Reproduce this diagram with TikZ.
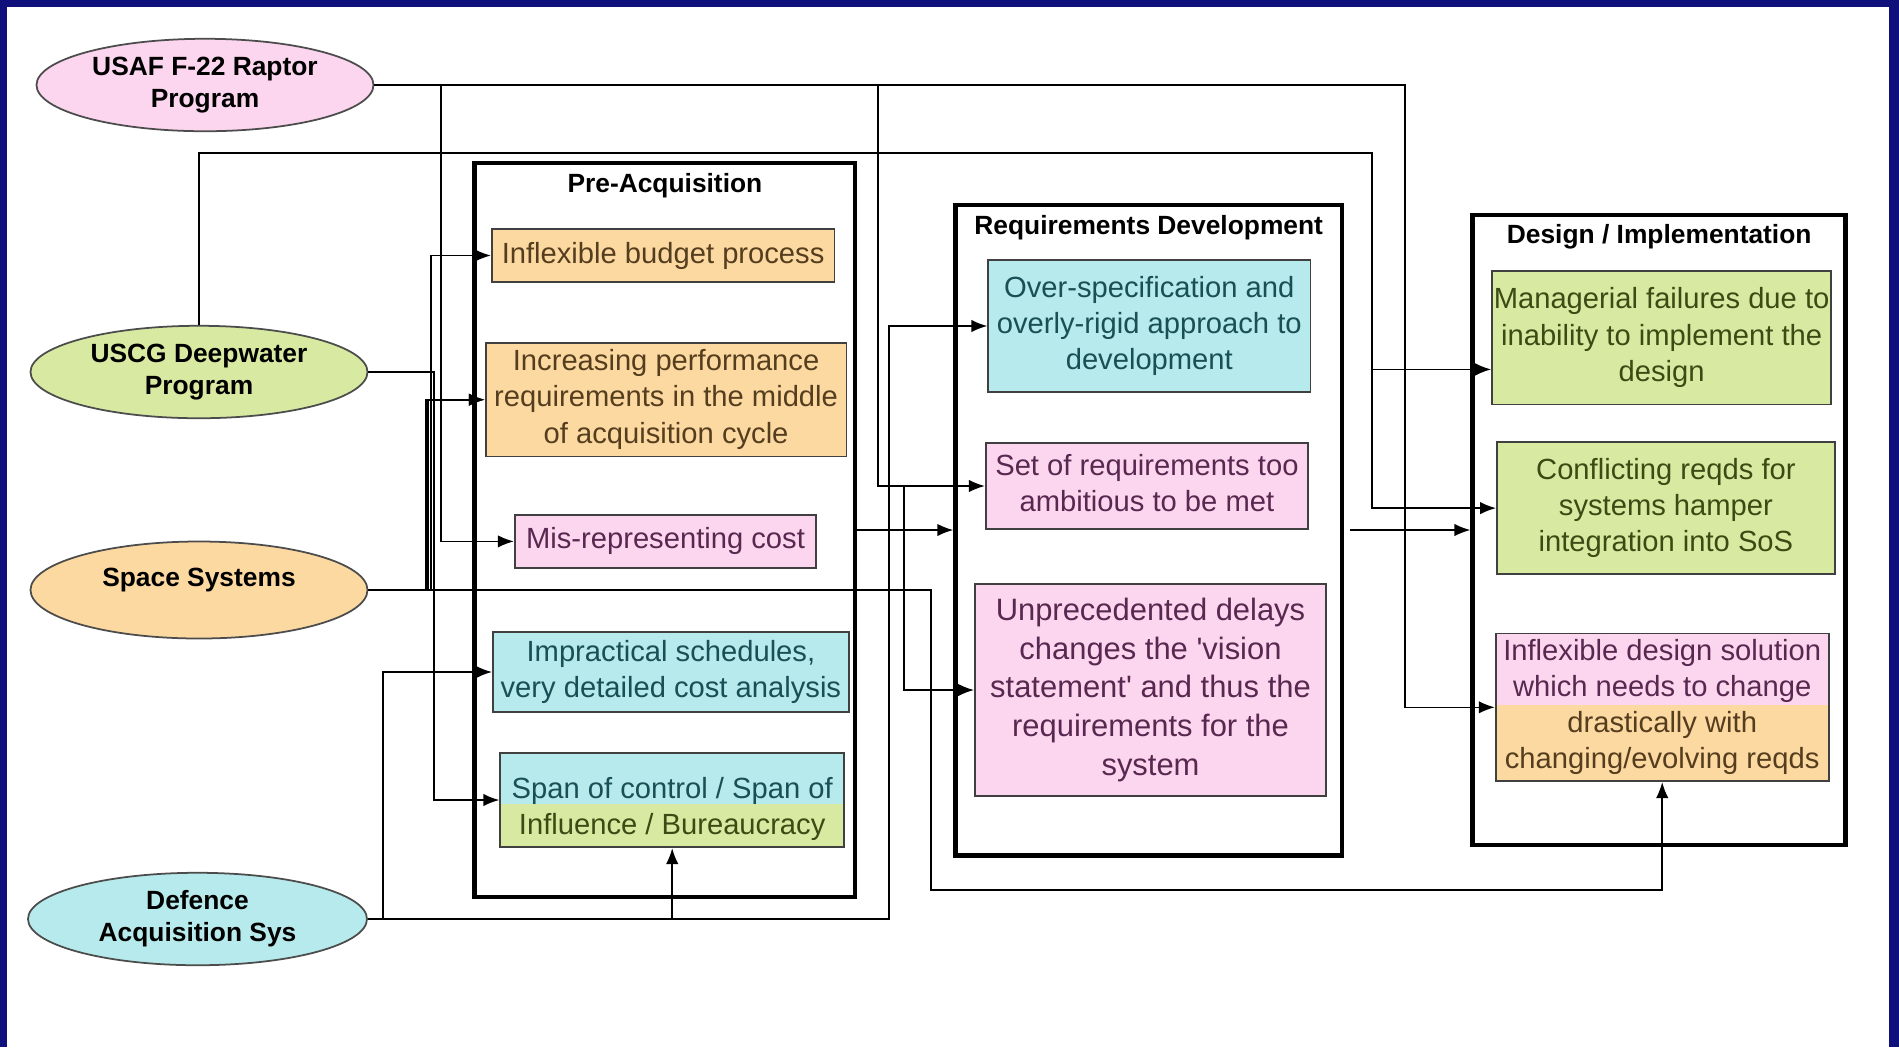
\documentclass[tikz,border=0pt]{standalone}
\usepackage{fontspec}
\setmainfont{Liberation Sans}
\usetikzlibrary{positioning,shapes.geometric,arrows.meta}

\definecolor{frameblue}{RGB}{16,16,124}
\definecolor{orangefill}{RGB}{253,217,162}
\definecolor{pinkfill}{RGB}{252,214,238}
\definecolor{cyanfill}{RGB}{182,234,236}
\definecolor{greenfill}{RGB}{216,234,162}
\definecolor{orangetext}{RGB}{85,62,30}
\definecolor{pinktext}{RGB}{88,40,80}
\definecolor{cyantext}{RGB}{25,80,85}
\definecolor{greentext}{RGB}{60,75,20}

\begin{document}
\begin{tikzpicture}[auto, >={Latex[length=1.6mm,width=1.25mm]}]
        \tikzstyle{block} = [draw=black!75, rectangle, line width=0.5pt, inner sep=0pt, font=\fontsize{8.3}{10.3}\selectfont]
        \tikzstyle{stage} = [draw, rectangle, line width=1.3pt, inner sep=0pt]
        \tikzstyle{stagetitle} = [inner sep=0pt, font=\fontsize{7.5}{9.3}\selectfont\bfseries]
        \tikzstyle{program} = [draw=black!70, ellipse, line width=0.5pt, inner sep=0pt, font=\fontsize{7.5}{9.3}\selectfont\bfseries]
        \tikzstyle{link} = [->, line width=0.45pt]

        \fill [frameblue] (0,0) rectangle (18.99,-10.47);
        \fill [white] (0.07,-0.07) rectangle (18.89,-10.47);

        \node [program, fill=pinkfill, minimum width=3.37cm, minimum height=0.83cm] (usaf) at (2.05,-0.85) {%
          \begin{tabular}{@{}c@{}}
            USAF F-22 Raptor\\
            Program
          \end{tabular}
        };
        \node [program, fill=greenfill, minimum width=3.37cm, minimum height=0.83cm] (uscg) at (1.99,-3.72) {%
          \begin{tabular}{@{}c@{}}
            USCG Deepwater\\
            Program
          \end{tabular}
        };
        \node [program, fill=orangefill, minimum width=3.37cm, minimum height=0.97cm] (space) at (1.99,-5.9) {\raisebox{0.1cm}[\height][\depth]{Space Systems}};
        \node [program, fill=cyanfill, minimum width=3.39cm, minimum height=0.86cm] (defence) at (1.975,-9.19) {%
          \begin{tabular}{@{}c@{}}
            Defence\\
            Acquisition Sys
          \end{tabular}
        };

        \node [stage, minimum width=3.803cm, minimum height=7.339cm] (preacq) at (6.649,-5.3) {};
        \node [stage, minimum width=3.863cm, minimum height=6.504cm] (reqdev) at (11.487,-5.3) {};
        \node [stage, minimum width=3.73cm, minimum height=6.298cm] (design) at (16.592,-5.3) {};
        \node [stagetitle, below=0.12cm of preacq.north] (preacqtitle) {Pre-Acquisition};
        \node [stagetitle, below=0.12cm of reqdev.north] (reqdevtitle) {Requirements Development};
        \node [stagetitle, below=0.11cm of design.north] (designtitle) {Design / Implementation};

        \node [block, fill=orangefill, text=orangetext, minimum width=3.427cm, minimum height=0.533cm] (budget) at (6.631,-2.555) {Inflexible budget process};
        \node [block, fill=orangefill, text=orangetext, minimum width=3.609cm, minimum height=1.138cm] (increasing) at (6.661,-3.997) {%
          \begin{tabular}{@{}c@{}}
            Increasing performance\\
            requirements in the middle\\
            of acquisition cycle
          \end{tabular}
        };
        \node [block, fill=pinkfill, text=pinktext, minimum width=3.016cm, minimum height=0.533cm] (misrep) at (6.655,-5.414) {Mis-representing cost};
        \node [block, fill=cyanfill, text=cyantext, minimum width=3.561cm, minimum height=0.799cm] (impractical) at (6.709,-6.72) {%
          \begin{tabular}{@{}c@{}}
            Impractical schedules,\\
            very detailed cost analysis
          \end{tabular}
        };
        \node [block, fill=cyanfill, minimum width=3.44cm, minimum height=0.945cm,
          path picture={\fill [greenfill] (path picture bounding box.south west) rectangle ([yshift=-0.51cm]path picture bounding box.north east);}] (span) at (6.722,-8.0) {%
          \raisebox{-0.09cm}[\height][\depth]{\begin{tabular}{@{}c@{}}
            \textcolor{cyantext}{Span of control / Span of}\\
            \textcolor{greentext}{Influence / Bureaucracy}
          \end{tabular}}
        };

        \node [block, fill=cyanfill, text=cyantext, minimum width=3.222cm, minimum height=1.32cm] (overspec) at (11.493,-3.26) {%
          \begin{tabular}{@{}c@{}}
            Over-specification and\\
            overly-rigid approach to\\
            development
          \end{tabular}
        };
        \node [block, fill=pinkfill, text=pinktext, minimum width=3.222cm, minimum height=0.86cm] (setreq) at (11.469,-4.86) {%
          \begin{tabular}{@{}c@{}}
            Set of requirements too\\
            ambitious to be met
          \end{tabular}
        };
        \node [block, fill=pinkfill, text=pinktext, font=\fontsize{8.8}{11}\selectfont, minimum width=3.512cm, minimum height=2.119cm] (unprec) at (11.505,-6.9) {%
          \begin{tabular}{@{}c@{}}
            Unprecedented delays\\
            changes the \textquotesingle vision\\
            statement\textquotesingle{} and thus the\\
            requirements for the\\
            system
          \end{tabular}
        };

        \node [block, fill=greenfill, text=greentext, minimum width=3.391cm, minimum height=1.332cm] (managerial) at (16.616,-3.379) {%
          \begin{tabular}{@{}c@{}}
            Managerial failures due to\\
            inability to implement the\\
            design
          \end{tabular}
        };
        \node [block, fill=greenfill, text=greentext, minimum width=3.379cm, minimum height=1.32cm] (conflicting) at (16.659,-5.081) {%
          \begin{tabular}{@{}c@{}}
            Conflicting reqds for\\
            systems hamper\\
            integration into SoS
          \end{tabular}
        };
        \node [block, fill=pinkfill, minimum width=3.331cm, minimum height=1.478cm,
          path picture={\fill [orangefill] (path picture bounding box.south west) rectangle ([yshift=-0.715cm]path picture bounding box.north east);}] (inflexdesign) at (16.622,-7.073) {%
          \begin{tabular}{@{}c@{}}
            \textcolor{pinktext}{Inflexible design solution}\\
            \textcolor{pinktext}{which needs to change}\\
            \textcolor{orangetext}{drastically with}\\
            \textcolor{orangetext}{changing/evolving reqds}
          \end{tabular}
        };

        % USAF F-22
        \draw [link] (usaf.east) -- (14.05,-0.85) |- (inflexdesign.west);
        \draw [link] (usaf.east) -- (4.41,-0.85) |- (misrep.west);
        \draw [link] (usaf.east) -- (8.78,-0.85) |- (setreq.west);
        \draw [link] (usaf.east) -- (8.78,-0.85) |- (9.04,-4.86) |- (unprec.west);
        % USCG Deepwater
        \draw [link] (uscg.north) |- (13.72,-1.53) |- (conflicting.west);
        \draw [link] (uscg.north) |- (13.72,-1.53) |- ([yshift=-0.315cm]managerial.west);
        \draw [link] (uscg.east) -- (4.34,-3.72) |- (span.west);
        % Space Systems
        \draw [link] (space.east) -- (4.31,-5.9) |- (budget.west);
        \draw [link] (space.east) -- (4.28,-5.9) |- (increasing.west);
        \draw [link] (space.east) -- (4.26,-5.9) |- (increasing.west);
        \draw [link] (space.east) -- (9.31,-5.9) -- (9.31,-8.9) -| (inflexdesign.south);
        % Defence Acquisition
        \draw [link] (defence.east) -- (8.89,-9.19) |- (overspec.west);
        \draw [link] (defence.east) -- (3.83,-9.19) |- (impractical.west);
        \draw [link] (defence.east) -| (span.south);

        \draw [link] (preacq.east) -- (reqdev.west);
        \draw [link] ([xshift=0.06cm]reqdev.east) -- (design.west);
    \end{tikzpicture}
\end{document}
